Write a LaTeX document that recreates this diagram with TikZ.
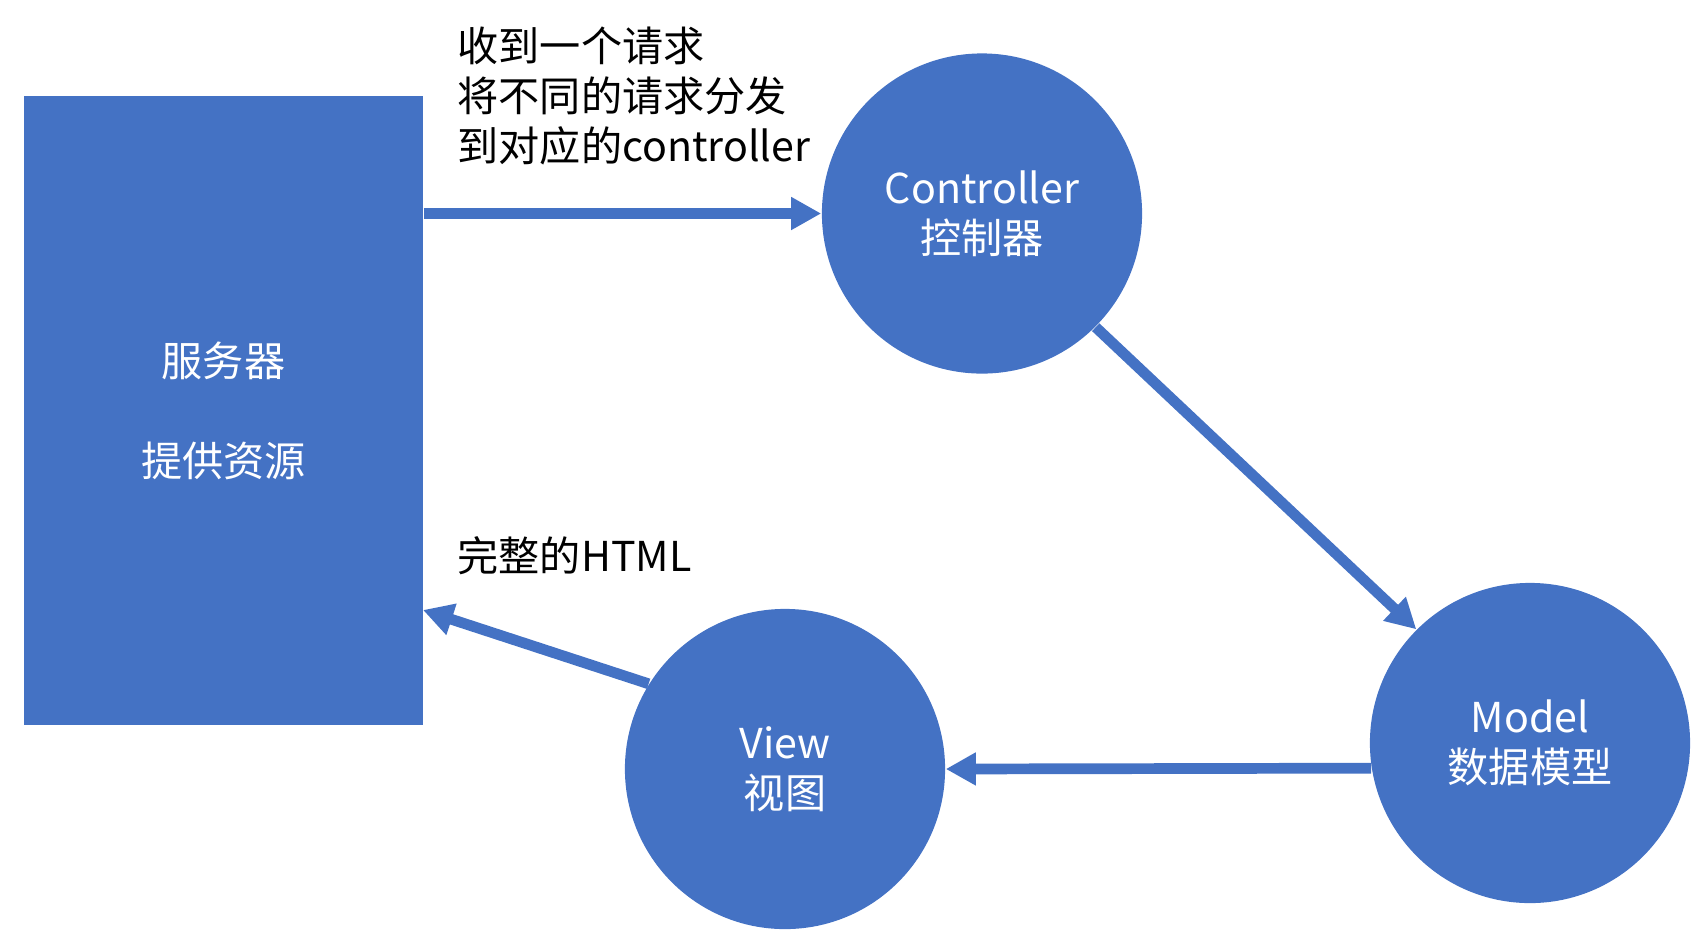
\documentclass[tikz,border=0pt]{standalone}
\usepackage{fontspec}
\setmainfont{Noto Sans CJK SC}
\usetikzlibrary{arrows.meta}

\definecolor{nodeblue}{HTML}{4472C4}

\begin{document}
\begin{tikzpicture}
          [x=0.01cm,y=-0.01cm,
          font=\fontsize{11.7}{14.2}\selectfont,
          box/.style={shape=rectangle,fill=nodeblue,text=white,minimum width=3.99cm,minimum height=6.29cm,inner sep=0pt,align=center},
          node/.style={shape=circle,fill=nodeblue,text=white,minimum size=3.2cm,inner sep=0pt,align=center},
          arc/.style={-{Triangle[length=0.3cm,width=0.31cm]},draw=nodeblue,line width=0.107cm},
          note/.style={anchor=west,align=left,inner sep=0pt}]

            \useasboundingbox (0,0) rectangle (1708,935);

            \node (server) [box] at (223.5,410.5) {服务器\\~\\提供资源};
            \node (ctrl) [node] at (982,213.5) {Controller\\控制器};
            \node (model) [node] at (1530,743) {Model\\数据模型};
            \node (view) [node] at (785,769) {View\\视图};

            \node (req) [note] at (457,96) {收到一个请求\\将不同的请求分发\\到对应的controller};
            \node (html) [note] at (457,556) {完整的HTML};

            \coordinate (htmlin) at (423,610);

          \draw [arc] (server.east |- ctrl.west) to (ctrl.west);
          \draw [arc] (ctrl.-45) to (model.135);
          \draw [arc] (model.189.35) to (view.east);
          \draw [arc] (view.148) to (htmlin);

        \end{tikzpicture}
\end{document}
